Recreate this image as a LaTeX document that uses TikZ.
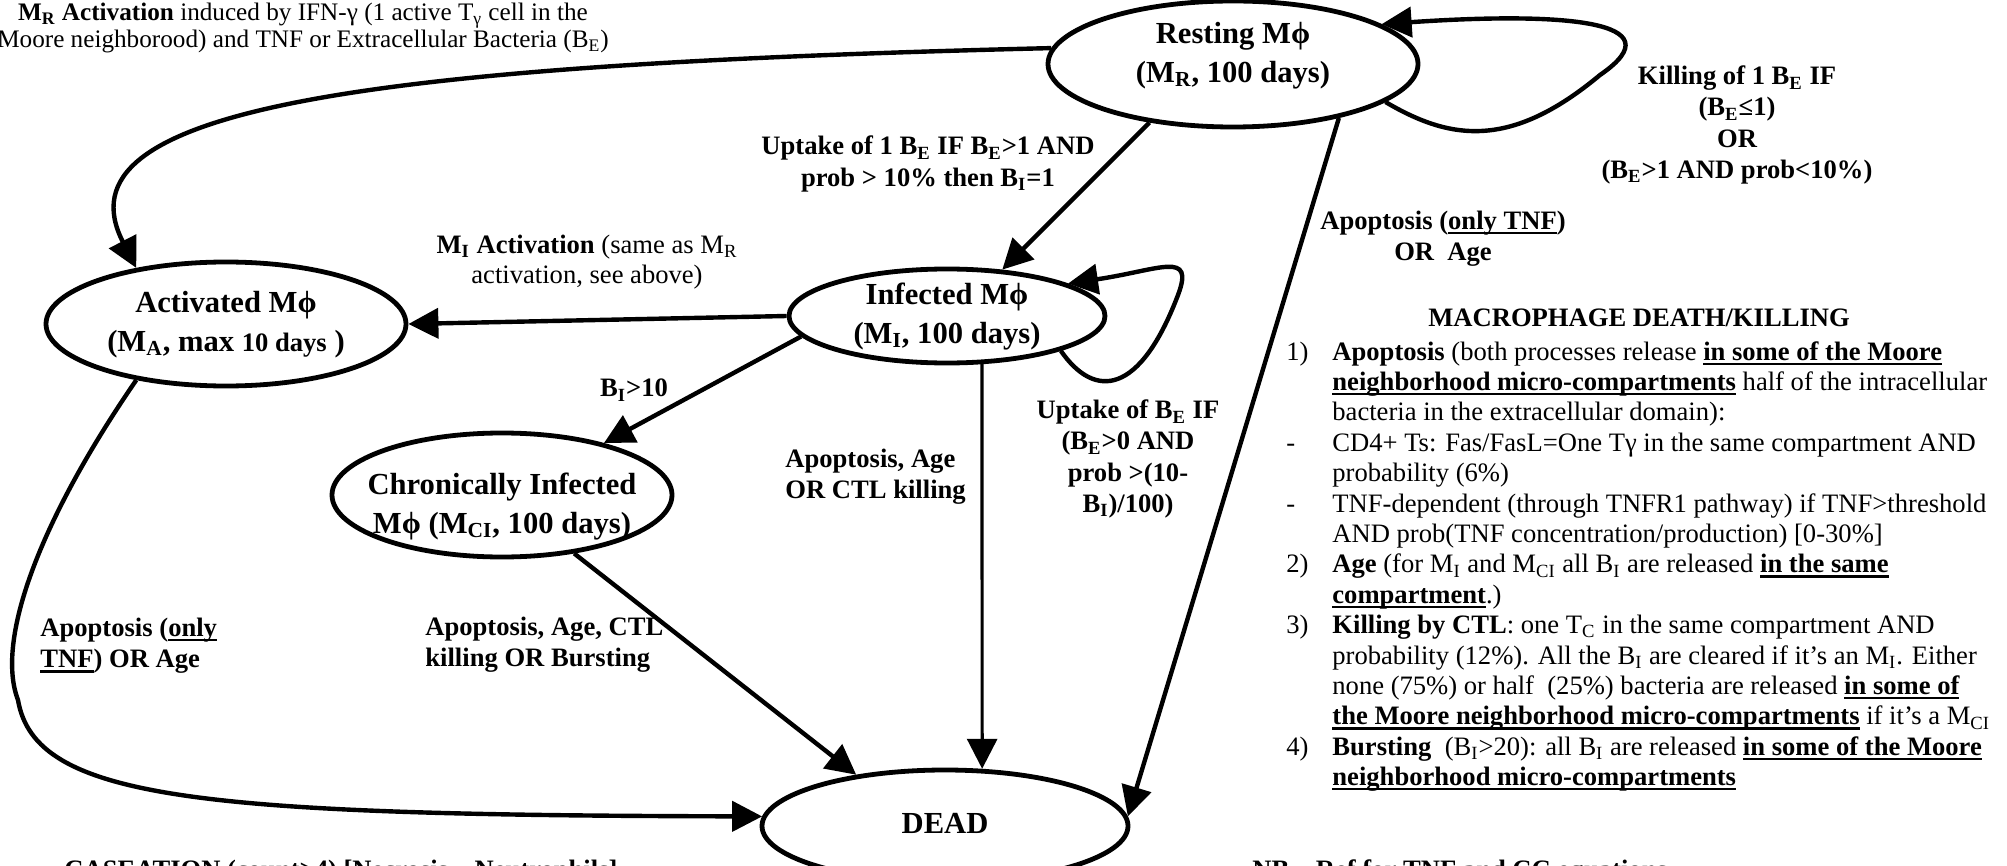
\documentclass[tikz,border=0pt]{standalone}
\usepackage{fontspec}
\setmainfont{Liberation Serif}
\usetikzlibrary{arrows.meta,shapes.geometric}

\newcommand{\statefont}{\fontsize{15.3}{19.5}\selectfont\bfseries}
\newcommand{\lblfont}{\fontsize{13.3}{15.6}\selectfont\bfseries}
\newcommand{\notefont}{\fontsize{13.3}{15.2}\selectfont}
\newcommand{\sbs}[1]{\textsubscript{#1}}
% thick underline
\newsavebox{\ulbox}
\newcommand{\uline}[1]{\sbox{\ulbox}{#1}\rlap{\rule[-2.4pt]{\wd\ulbox}{1.1pt}}\usebox{\ulbox}}
% state text: no width/height, so the ellipse keeps its given size
\newcommand{\statetext}[2][0pt]{\smash{\raisebox{#1}{\makebox[0pt]{\begin{tabular}{@{}c@{}}#2\end{tabular}}}}}

\begin{document}
\begin{tikzpicture}[x=0.5pt,y=-0.5pt,
  state/.style={ellipse, draw, line width=2.4pt, inner sep=0pt, font=\statefont},
  arr/.style={-{Triangle[length=15pt,width=15pt]}, line width=2.2pt},
  lbl/.style={font=\lblfont, align=center, inner sep=0pt},
  note/.style={font=\notefont, align=left, inner sep=0pt},
]
\useasboundingbox (0,0) rectangle (2007,866);
\clip (0,0) rectangle (2007,866);

% ---- states ----
\node[state, minimum width=185pt, minimum height=63pt] (rest) at (1233,64)
  {\statetext[1pt]{Resting Mϕ\\(M\sbs{R}, 100 days)}};
\node[state, minimum width=158pt, minimum height=47pt] (inf) at (947,316)
  {\statetext[-3.5pt]{Infected Mϕ\\(M\sbs{I}, 100 days)}};
\node[state, minimum width=180pt, minimum height=62pt] (act) at (226,324)
  {\statetext[-3.7pt]{Activated Mϕ\\(M\sbs{A}, max {\lblfont 10 days} )}};
\node[state, minimum width=170pt, minimum height=62pt] (chr) at (502,495)
  {\statetext[-9pt]{Chronically Infected\\Mϕ (M\sbs{CI}, 100 days)}};
\node[state, minimum width=183pt, minimum height=56pt] (dead) at (945,826)
  {\statetext[-3.5pt]{DEAD}};

\coordinate (rloop) at (1600,75);
\coordinate (iloop) at (1178,295);
\coordinate (lbend) at (18,700);

% ---- transitions ----
\draw[arr] (rest.175) .. controls (350,65) and (55,110) .. (act.148);
\draw[arr] (rest.215) -- (inf.40);
\draw[arr] (rest.-27) -- (dead.3);
\draw[arr] (rest.-14) .. controls (1450,140) and (1510,150) .. (rloop)
  .. controls (1680,20) and (1560,12) .. (rest.15);
\draw[arr] (inf.west) -- (act.east);
\draw[arr] (inf.188) -- (chr.27);
\draw[arr, line width=1.6pt] (inf.-54) -- (dead.57);
\draw[arr] (inf.-17) .. controls (1095,400) and (1140,395) .. (iloop)
  .. controls (1195,250) and (1160,270) .. (inf.15);
\draw[arr] (chr.-39) -- (dead.150);
\draw[arr] (act.212) .. controls (40,520) and (-5,640) .. (lbend)
  .. controls (35,800) and (200,815) .. (dead.177);

% ---- edge labels ----
\node[lbl, font=\fontsize{12.6}{13.5}\selectfont] (ltop) at (303,28)
  {\textbf{M\sbs{R} Activation} induced by IFN-γ (1 active T\sbs{γ} cell in the\\
   Moore neighborood) and TNF or Extracellular Bacteria (B\sbs{E})};
\node[lbl] (lupr) at (928,164)
  {Uptake of 1 B\sbs{E} IF B\sbs{E}>1 AND\\prob > 10\% then B\sbs{I}=1};
\node[lbl] (lkill) at (1737,125)
  {Killing of 1 B\sbs{E} IF\\(B\sbs{E}≤1)\\OR\\(B\sbs{E}>1 AND prob<10\%)};
\node[lbl] (lapr) at (1443,239) {Apoptosis (\uline{only TNF})\\OR\ \ Age};
\node[lbl, font=\notefont] (lmia) at (587,262)
  {\textbf{M\sbs{I} Activation} (same as M\sbs{R}\\activation, see above)};
\node[lbl] (lbi) at (634,390) {B\sbs{I}>10};
\node[lbl, align=left, anchor=west] (linf) at (785,477) {Apoptosis, Age\\OR CTL killing};
\node[lbl] (lupt) at (1128,459)
  {Uptake of B\sbs{E} IF\\(B\sbs{E}>0 AND\\prob >(10-\\B\sbs{I})/100)};
\node[lbl, align=left, anchor=west] (lact) at (40,646) {Apoptosis (\uline{only}\\\uline{TNF}) OR Age};
\node[lbl, align=left, anchor=west] (lchr) at (425,645) {Apoptosis, Age, CTL\\killing OR Bursting};

% ---- death/killing notes ----
\node[lbl] (ltitle) at (1639,318) {MACROPHAGE DEATH/KILLING};
\node[note, anchor=base west] (lst) at (1286,360) {%
\begin{tabular}[t]{@{}p{23pt}@{}l@{}}
1) & \textbf{Apoptosis} (both processes release \textbf{\uline{in some of the Moore}}\\
   & \textbf{\uline{neighborhood micro-compartments}} half of the intracellular\\
   & bacteria in the extracellular domain):\\
-  & CD4+ Ts: Fas/FasL=One Tγ in the same compartment AND\\
   & probability (6\%)\\
-  & TNF-dependent (through TNFR1 pathway) if TNF>threshold\\
   & AND prob(TNF concentration/production) [0-30\%]\\
2) & \textbf{Age} (for M\sbs{I} and M\sbs{CI} all B\sbs{I} are released \textbf{\uline{in the same}}\\
   & \textbf{\uline{compartment}}.)\\
3) & \textbf{Killing by CTL}: one T\sbs{C} in the same compartment AND\\
   & probability (12\%). All the B\sbs{I} are cleared if it’s an M\sbs{I}. Either\\
   & none (75\%) or half\ \ (25\%) bacteria are released \textbf{\uline{in some of}}\\
   & \textbf{\uline{the Moore neighborhood micro-compartments}} if it’s a M\sbs{CI}\\
4) & \textbf{Bursting}\ \ (B\sbs{I}>20): all B\sbs{I} are released \textbf{\uline{in some of the Moore}}\\
   & \textbf{\uline{neighborhood micro-compartments}}
\end{tabular}};

% ---- bottom lines (cut by the page edge) ----
\node[lbl, anchor=base west] (lcase) at (64,878) {CASEATION (count>4) [Necrosis→Neutrophils]};
\node[lbl, anchor=base west] (lref) at (1252,878) {NB – Ref for TNF and CC equations};

\end{tikzpicture}
\end{document}
